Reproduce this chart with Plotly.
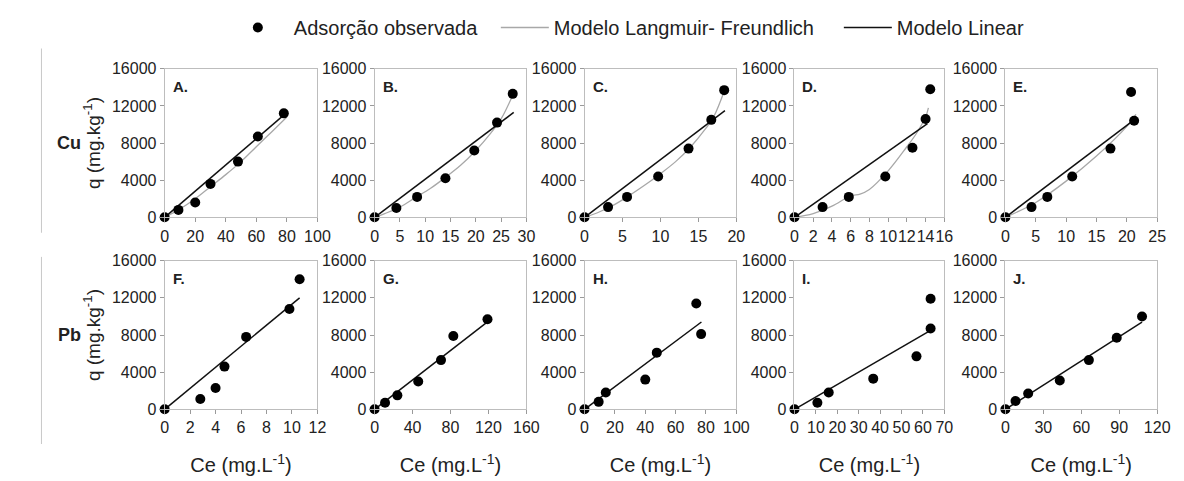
import plotly.graph_objects as go

# ---------------- data ----------------
panel_labels = ["A.", "B.", "C.", "D.", "E.", "F.", "G.", "H.", "I.", "J."]
row_labels = ["Cu", "Pb"]
x_max = [100, 30, 20, 16, 25, 12, 160, 100, 70, 120]
x_dtick = [20, 5, 5, 2, 5, 2, 40, 20, 10, 30]
y_ticks = [0, 4000, 8000, 12000, 16000]

# observed adsorption (Ce, q)
obs_A_x = [0, 9, 20, 30, 48, 61, 78]
obs_A_y = [0, 800, 1600, 3600, 6000, 8700, 11200]
obs_B_x = [0, 4.3, 8.4, 14, 19.7, 24.2, 27.3]
obs_B_y = [0, 1000, 2200, 4200, 7200, 10200, 13300]
obs_C_x = [0, 3.1, 5.6, 9.7, 13.7, 16.7, 18.4]
obs_C_y = [0, 1100, 2200, 4400, 7400, 10500, 13700]
obs_D_x = [0, 3.0, 5.8, 9.7, 12.6, 14.0, 14.5]
obs_D_y = [0, 1100, 2200, 4400, 7500, 10600, 13800]
obs_E_x = [0, 4.3, 6.9, 11.0, 17.3, 20.7, 21.2]
obs_E_y = [0, 1100, 2200, 4400, 7400, 13500, 10400]
obs_F_x = [0, 2.8, 4.0, 4.7, 6.4, 9.8, 10.6]
obs_F_y = [0, 1100, 2300, 4600, 7800, 10800, 14000]
obs_G_x = [0, 11, 24, 46, 70, 83, 119]
obs_G_y = [0, 700, 1500, 3000, 5300, 7900, 9700]
obs_H_x = [0, 9.3, 14, 40, 47.6, 73.6, 76.8]
obs_H_y = [0, 800, 1800, 3200, 6100, 11400, 8100]
obs_I_x = [0, 10.7, 16, 36.8, 57, 63.6, 63.6]
obs_I_y = [0, 700, 1800, 3300, 5700, 8700, 11900]
obs_J_x = [0, 8, 18, 43, 66, 88, 108]
obs_J_y = [0, 900, 1700, 3100, 5300, 7700, 10000]

# Langmuir-Freundlich model curves (Cu only)
lf_A_x = [0, 10, 20, 30, 40, 50, 60, 70, 80]
lf_A_y = [0, 900, 2000, 3300, 4600, 6000, 7600, 9200, 10800]
lf_B_x = [0, 2, 5, 8, 11, 14, 17, 20, 23, 25, 27.5]
lf_B_y = [0, 400, 1100, 2100, 3100, 4300, 5600, 7200, 9100, 10600, 13400]
lf_C_x = [0, 2, 4, 6, 8, 10, 12, 14, 16, 17, 18.5]
lf_C_y = [0, 600, 1400, 2400, 3500, 4700, 6000, 7600, 9600, 10800, 13800]
lf_D_x = [0, 2, 4, 6, 7, 8, 10, 12, 13, 14, 14.3]
lf_D_y = [0, 400, 1200, 2300, 2500, 3000, 5000, 7600, 9000, 10800, 11800]
lf_E_x = [0, 5, 10, 15, 20, 21.5]
lf_E_y = [0, 1600, 3900, 6600, 9800, 11100]

# Linear model (end points)
lin_x = [[0, 80], [0, 27.5], [0, 18.5], [0, 14.2], [0, 21.2],
         [0, 10.6], [0, 120], [0, 77], [0, 63.6], [0, 108]]
lin_y = [[0, 11300], [0, 11300], [0, 11500], [0, 10100], [0, 10500],
         [0, 12000], [0, 9500], [0, 9400], [0, 8500], [0, 9400]]

obs_x = [obs_A_x, obs_B_x, obs_C_x, obs_D_x, obs_E_x, obs_F_x, obs_G_x, obs_H_x, obs_I_x, obs_J_x]
obs_y = [obs_A_y, obs_B_y, obs_C_y, obs_D_y, obs_E_y, obs_F_y, obs_G_y, obs_H_y, obs_I_y, obs_J_y]
lf_x = [lf_A_x, lf_B_x, lf_C_x, lf_D_x, lf_E_x]
lf_y = [lf_A_y, lf_B_y, lf_C_y, lf_D_y, lf_E_y]

legend_names = ["Adsorção observada", "Modelo Langmuir- Freundlich", "Modelo Linear"]

# ---------------- layout geometry ----------------
W, H = 1184, 481
col_px = [(163, 318), (376, 530), (589, 743), (802, 954), (1016, 1170)]
row_px = [(63, 217), (262, 416)]

FONT = "Liberation Sans, Arial, sans-serif"
TXT = "#222222"
fig = go.Figure()
layout = {}

for i in range(10):
    r, c = divmod(i, 5)
    n = i + 1
    xa = "x" if n == 1 else f"x{n}"
    ya = "y" if n == 1 else f"y{n}"
    if i < 5:
        fig.add_trace(go.Scatter(x=lf_x[i], y=lf_y[i], mode="lines",
                                 line=dict(color="#a8a8a8", width=1.3, shape="spline"),
                                 name=legend_names[1], showlegend=(i == 0), legend="legend2",
                                 xaxis=xa, yaxis=ya, cliponaxis=False))
    fig.add_trace(go.Scatter(x=lin_x[i], y=lin_y[i], mode="lines",
                             line=dict(color="#111111", width=1.5),
                             name=legend_names[2], showlegend=(i == 0), legend="legend3",
                             xaxis=xa, yaxis=ya, cliponaxis=False))
    fig.add_trace(go.Scatter(x=obs_x[i], y=obs_y[i], mode="markers",
                             marker=dict(color="#000000", size=10),
                             name=legend_names[0], showlegend=(i == 0), legend="legend",
                             xaxis=xa, yaxis=ya, cliponaxis=False))

    x0, x1 = col_px[c]
    y0, y1 = row_px[r]
    axis_common = dict(showline=True, linecolor="#bdbdbd", linewidth=1, mirror=True,
                       showgrid=False, zeroline=False, ticks="outside", ticklen=4,
                       tickcolor="#9a9a9a", tickangle=0,
                       tickfont=dict(family=FONT, size=16, color=TXT))
    xkey = "xaxis" if n == 1 else f"xaxis{n}"
    ykey = "yaxis" if n == 1 else f"yaxis{n}"
    layout[xkey] = dict(domain=[x0 / W, x1 / W], range=[0, x_max[i]], dtick=x_dtick[i],
                        tick0=0, anchor=ya, **axis_common)
    yax = dict(domain=[1 - y1 / H, 1 - y0 / H], range=[0, 16000],
               tickvals=y_ticks, tickformat="d", anchor=xa, **axis_common)
    if c == 0:
        yax["title"] = dict(text="q (mg.kg<sup>-1</sup>)",
                            font=dict(family=FONT, size=19, color=TXT), standoff=6)
    layout[ykey] = yax
    if r == 1:
        layout[xkey]["title"] = dict(text="Ce (mg.L<sup>-1</sup>)",
                                     font=dict(family=FONT, size=20, color=TXT), standoff=22)

annotations = []
for i in range(10):
    n = i + 1
    xa = "x" if n == 1 else f"x{n}"
    ya = "y" if n == 1 else f"y{n}"
    annotations.append(dict(text=f"<b>{panel_labels[i]}</b>", x=0.04, y=0.95,
                            xref=f"{xa} domain", yref=f"{ya} domain",
                            xanchor="left", yanchor="top", showarrow=False,
                            font=dict(family=FONT, size=15, color=TXT)))
for r in range(2):
    y0, y1 = row_px[r]
    annotations.append(dict(text=f"<b>{row_labels[r]}</b>", x=66 / W, y=1 - (y0 + y1) / 2 / H,
                            xref="paper", yref="paper", xanchor="center", yanchor="middle",
                            showarrow=False, font=dict(family=FONT, size=18, color=TXT)))

shapes = [
    dict(type="line", xref="paper", yref="paper", x0=38 / W, x1=38 / W,
         y0=1 - 233 / H, y1=1 - 42 / H, line=dict(color="#c8c8c8", width=1)),
    dict(type="line", xref="paper", yref="paper", x0=38 / W, x1=38 / W,
         y0=1 - 452 / H, y1=1 - 258 / H, line=dict(color="#c8c8c8", width=1)),
]

leg_common = dict(orientation="h", yanchor="top", xanchor="left", y=1.0,
                  font=dict(family=FONT, size=20, color=TXT), bgcolor="rgba(0,0,0,0)")

fig.update_layout(
    width=W, height=H, margin=dict(l=0, r=0, t=0, b=0),
    paper_bgcolor="white", plot_bgcolor="white",
    font=dict(family=FONT, size=16, color=TXT),
    showlegend=True,
    legend=dict(x=221 / W, itemwidth=62, **leg_common),
    legend2=dict(x=499 / W, itemwidth=48, **leg_common),
    legend3=dict(x=847 / W, itemwidth=48, **leg_common),
    annotations=annotations, shapes=shapes,
    **layout,
)

fig.write_html("out.html")
